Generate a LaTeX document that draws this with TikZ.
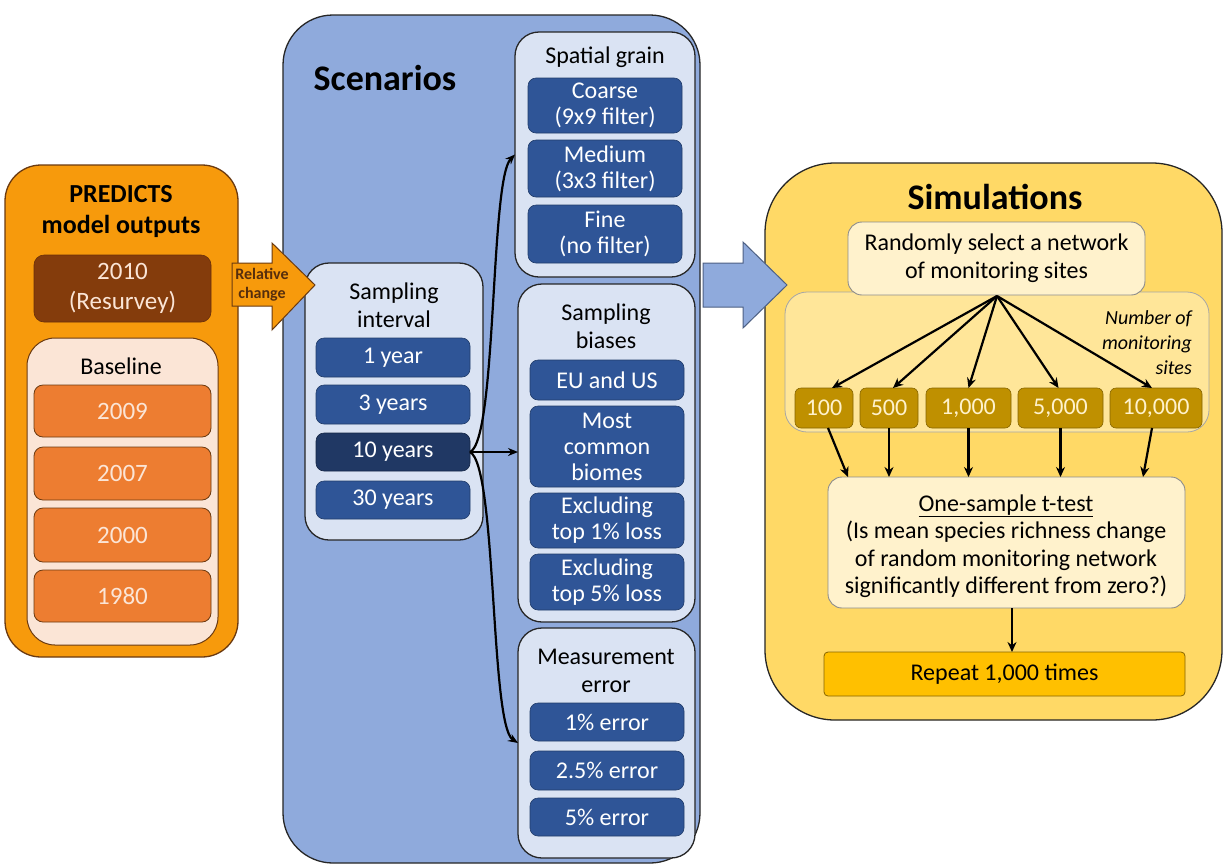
\documentclass[tikz,border=0pt]{standalone}
\usepackage{fontspec}
\setmainfont{Carlito}
\usetikzlibrary{arrows.meta,calc}
\definecolor{orangeP}{HTML}{F79A0C}
\definecolor{brownD}{HTML}{843C0C}
\definecolor{brownB}{HTML}{6B3A10}
\definecolor{peach}{HTML}{FBE5D6}
\definecolor{orangeI}{HTML}{ED7D31}
\definecolor{blueP}{HTML}{8FAADC}
\definecolor{blueL}{HTML}{DAE3F3}
\definecolor{blueI}{HTML}{2F5597}
\definecolor{blueD}{HTML}{203864}
\definecolor{goldP}{HTML}{FFD966}
\definecolor{goldL}{HTML}{FFE699}
\definecolor{cream}{HTML}{FFF2CC}
\definecolor{goldD}{HTML}{BF9000}
\definecolor{goldR}{HTML}{FFC000}
\newcommand\bxnode[7]{\node[#6, minimum width={(#4-#2)*1pt}, minimum height={(#5-#3)*1pt}] (#1) at ({(#2+#4)/2},{(#3+#5)/2}) {#7};}
\tikzset{
  box/.style={rectangle, inner sep=0pt, outer sep=0pt, align=center, font=\fontsize{24}{26}\selectfont},
  panelO/.style={box, fill=orangeP, draw=brownB, line width=1.3pt, rounded corners=36pt},
  panelB/.style={box, fill=blueP, draw=black!85, line width=1.3pt, rounded corners=50pt},
  panelG/.style={box, fill=goldP, draw=black!85, line width=1.3pt, rounded corners=70pt},
  resv/.style={box, fill=brownD, draw=brownD!80!black, line width=0.6pt, rounded corners=10pt, text=peach, font=\fontsize{25}{30}\selectfont},
  baseP/.style={box, fill=peach, draw=brownB, line width=1pt, rounded corners=28pt},
  yearI/.style={box, fill=orangeI, draw=brownB, line width=0.8pt, rounded corners=9pt, text=peach, font=\fontsize{25}{30}\selectfont},
  subB/.style={box, fill=blueL, draw=black!85, line width=1.3pt, rounded corners=24pt},
  itemB/.style={box, fill=blueI, draw=blueI!70!black, line width=0.6pt, rounded corners=8pt, text=white},
  itemD/.style={box, fill=blueD, draw=blueD!70!black, line width=0.6pt, rounded corners=8pt, text=white},
  creamB/.style={box, fill=cream, draw=black!45, line width=0.9pt, rounded corners=14pt, font=\fontsize{24}{28}\selectfont},
  contG/.style={box, fill=goldL, draw=black!35, line width=0.8pt, rounded corners=22pt},
  cntG/.style={box, fill=goldD, draw=goldD!70!black, line width=0.6pt, rounded corners=6pt, text=cream},
  repG/.style={box, fill=goldR, draw=goldD!70!black, line width=0.8pt, rounded corners=4pt},
  lbl/.style={inner sep=0pt, align=center, font=\fontsize{24}{28}\selectfont},
  ttl/.style={inner sep=0pt, align=center, font=\fontsize{36}{40}\selectfont\bfseries},
  arr/.style={line width=2.2pt, -{Stealth[length=10pt,width=9pt]}},
  sarr/.style={line width=2.2pt, -{Stealth[length=10pt,width=8pt]}},
}
\begin{document}
\begin{tikzpicture}[x=1pt,y=-1pt]
\useasboundingbox[fill=white] (0,0) rectangle (1225,865);
% ---------- PREDICTS panel ----------
\bxnode{pred}{5}{165}{238}{657}{panelO}{}
\node[inner sep=0pt, align=center, font=\fontsize{26}{31}\selectfont\bfseries] (predt) at (121,212) {PREDICTS\\model outputs};
\bxnode{y2010}{34}{255}{211}{322}{resv}{2010\\(Resurvey)}
\bxnode{base}{27}{338}{218}{645}{baseP}{}
\node[lbl] (baset) at (121,366) {Baseline};
\bxnode{y2009}{34}{385}{211}{437}{yearI}{2009}
\bxnode{y2007}{34}{447}{211}{500}{yearI}{2007}
\bxnode{y2000}{34}{508}{211}{562}{yearI}{2000}
\bxnode{y1980}{34}{570}{211}{622}{yearI}{1980}
% ---------- Scenarios panel ----------
\bxnode{scen}{283}{15}{700}{863}{panelB}{}
\node[ttl] (scent) at (385,78) {Scenarios};
\bxnode{grain}{515}{32}{695}{277}{subB}{}
\node[lbl] (graint) at (605,57) {Spatial grain};
\bxnode{coarse}{528}{78}{682}{133}{itemB}{Coarse\\(9x9 filter)}
\bxnode{medium}{528}{140}{682}{197}{itemB}{Medium\\(3x3 filter)}
\bxnode{fine}{528}{205}{682}{263}{itemB}{Fine\\(no filter)}
\bxnode{intv}{305}{263}{483}{540}{subB}{}
\node[lbl] (intvt) at (394,305) {Sampling\\interval};
\bxnode{one}{316}{338}{470}{377}{itemB}{1 year}
\bxnode{three}{316}{385}{470}{424}{itemB}{3 years}
\bxnode{ten}{316}{433}{470}{471}{itemD}{10 years}
\bxnode{thirty}{316}{481}{470}{519}{itemB}{30 years}
\bxnode{bias}{518}{284}{695}{622}{subB}{}
\node[lbl] (biast) at (606,326) {Sampling\\biases};
\bxnode{euus}{530}{360}{684}{400}{itemB}{EU and US}
\bxnode{biome}{530}{406}{684}{487}{itemB}{Most\\common\\biomes}
\bxnode{ex1}{530}{493}{684}{548}{itemB}{Excluding\\top 1\% loss}
\bxnode{ex5}{530}{554}{684}{610}{itemB}{Excluding\\top 5\% loss}
\bxnode{meas}{518}{628}{695}{858}{subB}{}
\node[lbl] (meast) at (606,671) {Measurement\\error};
\bxnode{e1}{530}{703}{684}{741}{itemB}{1\% error}
\bxnode{e25}{530}{751}{684}{790}{itemB}{2.5\% error}
\bxnode{e5}{530}{798}{684}{836}{itemB}{5\% error}
\draw[sarr] (ten.east) -- (bias.west |- ten.east);
\draw[sarr] (ten.east) .. controls (497,440) and (490,180) .. (grain.west);
\draw[sarr] (ten.east) .. controls (497,466) and (490,725) .. (meas.west);
% ---------- Simulations panel ----------
\bxnode{sim}{765}{163}{1222}{720}{panelG}{}
\node[ttl] (simt) at (995,197) {Simulations};
\bxnode{cont}{785}{292}{1209}{432}{contG}{}
\bxnode{rand}{848}{222}{1145}{295}{creamB}{Randomly select a network\\of monitoring sites}
\node[inner sep=0pt, align=right, anchor=east, font=\fontsize{20}{25}\selectfont\itshape] (nums) at (1192,343) {Number of\\monitoring\\sites};
\bxnode{c100}{795}{388}{853}{428}{cntG}{100}
\bxnode{c500}{860}{388}{918}{428}{cntG}{500}
\bxnode{c1k}{926}{388}{1011}{428}{cntG}{1,000}
\bxnode{c5k}{1018}{388}{1103}{428}{cntG}{5,000}
\bxnode{c10k}{1110}{388}{1202}{428}{cntG}{10,000}
\bxnode{ttest}{828}{477}{1185}{608}{creamB}{}
\node[inner sep=0pt, align=center, font=\fontsize{24}{27.5}\selectfont] (ttestt) at (1006,546) {\underline{One-sample t-test}\\(Is mean species richness change\\of random monitoring network\\significantly different from zero?)};
\bxnode{rep}{824}{652}{1185}{696}{repG}{Repeat 1,000 times}
\coordinate (src) at (997,296);
\draw[arr] (src) -- ($(c100.north)+(8,0)$);
\draw[arr] (src) -- ($(c500.north)+(4,0)$);
\draw[arr] (src) -- (c1k.north);
\draw[arr] (src) -- ($(c5k.north)+(-2,0)$);
\draw[arr] (src) -- ($(c10k.north)+(-4,0)$);
\coordinate (t100) at (848,477);
\coordinate (t10k) at (1143,477);
\draw[arr] ($(c100.south)+(4,0)$) -- (t100);
\draw[arr] (c500.south) -- (c500.south |- ttest.north);
\draw[arr] (c1k.south) -- (c1k.south |- ttest.north);
\draw[arr] (c5k.south) -- (c5k.south |- ttest.north);
\draw[arr] ($(c10k.south)+(-4,0)$) -- (t10k);
\coordinate (tb) at (1012,608);
\draw[arr] (tb) -- (tb |- rep.north);
% ---------- block arrows (on top) ----------
\path[fill=orangeP, draw=brownB, line width=1pt, line join=miter]
  (232,263) -- (272,263) -- (272,243) -- (315,285) -- (272,330) -- (272,306) -- (232,306) -- cycle;
\node[inner sep=0pt, align=center, text=brownB!80!black, font=\fontsize{16}{19}\selectfont\bfseries] (relc) at (262,285) {Relative\\change};
\path[fill=blueP, draw=blueD!80, line width=1pt, line join=miter]
  (703,263) -- (743,263) -- (743,242) -- (787,285) -- (743,328) -- (743,307) -- (703,307) -- cycle;
\end{tikzpicture}
\end{document}
